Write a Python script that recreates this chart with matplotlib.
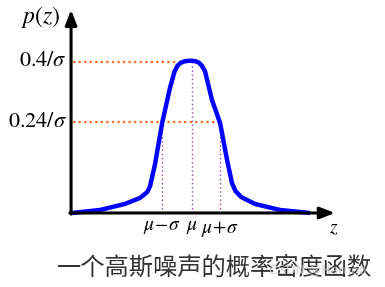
import matplotlib.pyplot as plt

plt.rcParams['mathtext.fontset'] = 'stix'
plt.rcParams['font.family'] = ['Liberation Serif', 'Noto Sans CJK SC', 'DejaVu Sans']

# curve of p(z), z in units of sigma (mu = 0)
z_vals = [-4.14, -3.17, -2.31, -1.79, -1.55, -1.45, -1.28, -1.03, -0.76, -0.6,
          -0.5, -0.38, -0.24, -0.1, 0.0, 0.12, 0.24, 0.34, 0.45, 0.69,
          0.97, 1.21, 1.38, 1.5, 1.7, 2.17, 3.03, 4.07]
p_vals = [0.0, 0.008, 0.024, 0.040, 0.055, 0.070, 0.127, 0.238, 0.331, 0.375,
          0.390, 0.398, 0.402, 0.403, 0.403, 0.402, 0.398, 0.390, 0.375, 0.299,
          0.238, 0.140, 0.079, 0.058, 0.042, 0.024, 0.008, 0.0]

level_vals = [0.4, 0.24]
level_labels = [r'$0.4/\sigma$', r'$0.24/\sigma$']
level_ends = [0.0, 0.97]
tick_pos = [-1.03, 0.0, 0.97]
tick_labels = [r'$\mu\!-\!\sigma$', r'$\mu$', r'$\mu\!+\!\sigma$']
tick_tops = [0.238, 0.403, 0.238]
caption = '一个高斯噪声的概率密度函数'

x_left, x_right = -4.17, 4.93
y_top = 0.538

fig = plt.figure(figsize=(3.85, 2.87), dpi=100)
ax = fig.add_axes([0, 0, 1, 1])
ax.set_xlim(-6.62, 6.655)
ax.set_ylim(-0.196, 0.564)
ax.axis('off')

# axes with arrows
arrow = dict(arrowstyle='-|>,head_length=0.9,head_width=0.35', color='black', lw=2.2,
             shrinkA=0, shrinkB=0)
ax.annotate('', xy=(x_left, y_top), xytext=(x_left, -0.003), arrowprops=arrow)
ax.annotate('', xy=(x_right, 0), xytext=(x_left - 0.04, 0), arrowprops=arrow)

# dotted guide lines
for lv, end, lab in zip(level_vals, level_ends, level_labels):
    ax.plot([x_left + 0.08, end], [lv, lv], ls=(0, (1, 1.5)), color='#ff6a20', lw=1.6)
    ax.text(x_left - 0.13, lv, lab, ha='right', va='center', fontsize=16)
for tp, top, lab in zip(tick_pos, tick_tops, tick_labels):
    ax.plot([tp, tp], [0, top], ls=(0, (1, 2)), color='#a040c0', lw=1.0)
    ax.text(tp, -0.015, lab, ha='center', va='top', fontsize=14)

ax.plot(z_vals, p_vals, color='#0000ff', lw=3.2, solid_capstyle='butt', solid_joinstyle='round')

ax.text(x_left - 0.35, 0.518, r'$p(z)$', ha='right', va='center', fontsize=17)
ax.text(4.88, -0.02, r'$z$', ha='center', va='top', fontsize=14)
ax.text(0.79, -0.145, caption, ha='center', va='center', fontsize=17.5, color='#333333',
        family=['Noto Sans CJK SC', 'DejaVu Sans'])
ax.text(4.35, -0.15, 'CSDN @Harnoo', ha='center', va='center', fontsize=9,
        color='#c8c8c8', alpha=0.8, family=['DejaVu Sans'])

fig.savefig('out.png', dpi=100)
